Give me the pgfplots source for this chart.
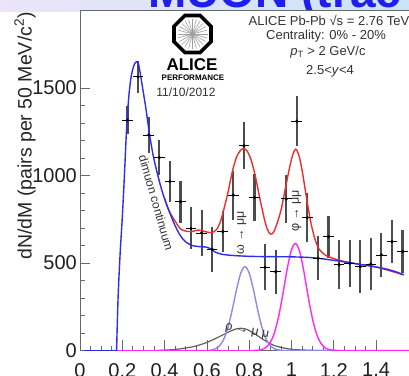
\documentclass[border=0pt]{standalone}
\usepackage{pgfplots}
\pgfplotsset{compat=1.18}
\usepackage{pgfplotstable}
\usepackage{fontspec}
\setmainfont{Liberation Sans}

\definecolor{framegray}{RGB}{105,105,105}
\definecolor{contblue}{RGB}{45,45,235}
\definecolor{fitred}{RGB}{240,45,45}
\definecolor{phimag}{RGB}{255,40,255}
\definecolor{omegablue}{RGB}{140,140,228}
\definecolor{rhogray}{RGB}{95,95,95}
\definecolor{titleblue}{RGB}{30,30,240}
\definecolor{bgleft}{RGB}{236,228,248}
\definecolor{bgmid}{RGB}{232,244,236}
\definecolor{bgright}{RGB}{200,228,246}

% measured dimuon spectrum: mass (GeV/c^2), counts, stat. error
\pgfplotstableread{
x      y     e
0.225  1315  80
0.275  1563  90
0.325  1231  100
0.375  1102  100
0.425  965   115
0.475  850   120
0.525  697   120
0.575  671   130
0.625  578   130
0.675  679   115
0.725  888   140
0.775  1169  135
0.825  873   135
0.875  475   132
0.925  450   125
0.975  866   135
1.025  1310  143
1.075  759   140
1.125  527   125
1.175  650   120
1.225  489   140
1.275  498   135
1.325  479   150
1.375  494   150
1.425  546   125
1.475  622   125
1.525  565   125
}\spectrum

\begin{document}
\begin{tikzpicture}[x=1pt,y=1pt]
\useasboundingbox (0,0) rectangle (409,375);
\clip (0,0) rectangle (409,375);
\fill[white] (0,0) rectangle (409,375);
% slide background and heading above the figure
\shade[left color=bgleft, middle color=bgmid, right color=bgright] (0,363) rectangle (409,375);
\node[anchor=base west, inner sep=0pt, text=titleblue,
      font=\fontsize{46}{46}\selectfont\bfseries] at (148,367.5) {MUON (trac};

\begin{axis}[
  at={(80pt,24.5pt)}, anchor=south west,
  scale only axis, width=338.4pt, height=340.5pt,
  xmin=0, xmax=1.6, ymin=0, ymax=1945,
  axis background/.style={fill=white},
  axis line style={framegray, line width=0.9pt},
  tick style={framegray, line width=0.8pt},
  tick align=inside,
  major tick length=10pt, minor tick length=5pt,
  xtick={0,0.2,0.4,0.6,0.8,1,1.2,1.4},
  ytick={0,500,1000,1500},
  minor x tick num=3, minor y tick num=4,
  xtick pos=bottom, ytick pos=left,
  /pgf/number format/assume math mode=true,
  /pgf/number format/1000 sep={},
  tick label style={font=\fontsize{20}{20}\selectfont, text=black!88},
  xticklabel style={inner sep=0pt, yshift=-12.5pt},
  yticklabel style={inner sep=0pt, xshift=-3pt},
  clip=true,
]
% data: vertical stat. errors, bin width, markers
\addplot[draw=none, forget plot,
  error bars/.cd, y dir=both, y explicit,
  error bar style={line width=2.2pt, black!70}, error mark=none]
  table[x=x, y=y, y error=e] {\spectrum};
\addplot[only marks, mark=-, mark size=5.3pt, mark options={line width=0.8pt, black}]
  table[x=x, y=y] {\spectrum};
\addplot[only marks, mark=*, mark size=1.4pt, black]
  table[x=x, y=y] {\spectrum};

% rho -> mu mu
\addplot[rhogray, line width=1.2pt, smooth] coordinates {
 (0.35,0) (0.40,2) (0.45,6) (0.50,14) (0.55,26) (0.60,46) (0.64,68) (0.68,92)
 (0.71,110) (0.74,124) (0.76,127) (0.78,124) (0.80,114) (0.83,92) (0.86,68)
 (0.89,45) (0.92,28) (0.96,15) (1.00,7) (1.05,3) (1.10,1) (1.15,0) (1.6,0)};

% omega -> mu mu
\addplot[omegablue, line width=1.4pt, smooth] coordinates {
 (0.40,0) (0.60,0) (0.62,3) (0.64,9.5) (0.66,27) (0.68,65) (0.70,133) (0.72,233)
 (0.74,348) (0.76,442) (0.78,479) (0.80,442) (0.82,348) (0.84,233) (0.86,133)
 (0.88,65) (0.90,27) (0.92,9.5) (0.94,3) (0.96,0) (1.20,0)};

% phi -> mu mu
\addplot[phimag, line width=1.4pt] coordinates {(0.12,0) (0.818,0)};
\addplot[phimag, line width=1.4pt, smooth] coordinates {
 (0.818,0) (0.838,1.5) (0.858,5) (0.878,16) (0.898,43) (0.918,96) (0.938,188)
 (0.958,314) (0.978,455) (0.998,568) (1.018,612) (1.038,568) (1.058,455)
 (1.078,314) (1.098,188) (1.118,96) (1.138,43) (1.158,16) (1.178,5)
 (1.198,1.5) (1.218,0)};
\addplot[phimag, line width=1.4pt] coordinates {(1.218,0) (1.6,0)};

% total
\addplot[fitred, line width=1.4pt, smooth] coordinates {
 (0.40,870) (0.42,800) (0.45,738) (0.475,695) (0.50,682) (0.53,680) (0.56,688)
 (0.59,680) (0.62,673) (0.645,690) (0.665,740) (0.685,830) (0.70,905)
 (0.72,1020) (0.74,1105) (0.76,1145) (0.775,1152) (0.79,1140) (0.81,1085)
 (0.83,990) (0.85,870) (0.87,760) (0.885,695) (0.90,665) (0.915,675)
 (0.93,720) (0.95,800) (0.97,920) (0.99,1040) (1.005,1115) (1.02,1150)
 (1.035,1115) (1.05,1030) (1.07,880) (1.09,740) (1.11,640) (1.13,580)
 (1.16,545) (1.20,525) (1.25,508) (1.30,496) (1.40,477) (1.53,432)};

% dimuon continuum
\addplot[contblue, line width=1.4pt] coordinates {(0.02,0) (0.173,0)};
\addplot[contblue, line width=1.4pt, smooth] coordinates {
 (0.173,0) (0.18,300) (0.19,560) (0.20,760) (0.21,1000) (0.22,1260)
 (0.23,1440) (0.24,1550) (0.25,1610) (0.26,1642) (0.268,1650) (0.277,1635)
 (0.29,1545) (0.30,1470) (0.31,1395) (0.32,1310) (0.33,1225) (0.345,1120)
 (0.36,1040) (0.38,945) (0.40,865) (0.425,785) (0.45,712) (0.475,655)
 (0.50,620) (0.53,600) (0.56,594) (0.60,590) (0.62,578) (0.64,562)
 (0.67,550) (0.72,543) (0.80,538) (0.90,536) (1.00,535) (1.10,530)
 (1.20,515) (1.30,497) (1.40,477) (1.45,465) (1.50,447) (1.53,432)};

% labels for the components
\node[rotate=-74, font=\fontsize{12}{12}\selectfont, text=black!80]
  at (axis cs:0.36,843) {dimuon continuum};
\node[rotate=90, font=\fontsize{12.5}{12.5}\selectfont, text=black!80]
  at (axis cs:0.7645,671) {ω → μμ};
\node[rotate=90, font=\fontsize{12.5}{12.5}\selectfont, text=black!80]
  at (axis cs:1.0246,797) {φ → μμ};
\node[rotate=-11, font=\fontsize{12.5}{12.5}\selectfont, text=black!80]
  at (axis cs:0.79,110) {ρ → μ μ};
\end{axis}

% collaboration logo
\begin{scope}[shift={(192.5,341)}]
  \foreach \a in {0,15,...,345} \draw[gray!75, line width=0.6pt] (0,0) -- (\a:15);
  \draw[black, line width=3.6pt, join=miter]
    (22.5:20) -- (67.5:20) -- (112.5:20) -- (157.5:20) -- (202.5:20)
    -- (247.5:20) -- (292.5:20) -- (337.5:20) -- cycle;
\end{scope}
\node[font=\fontsize{17}{17}\selectfont\bfseries, inner sep=0pt] at (192,310) {ALICE};
\node[font=\fontsize{8}{8}\selectfont\bfseries, inner sep=0pt] at (193,297.5) {PERFORMANCE};
\node[font=\fontsize{12}{12}\selectfont, text=black!80, inner sep=0pt] at (186,283) {11/10/2012};

% run information
\node[font=\fontsize{13}{13}\selectfont, text=black!80, inner sep=0pt] at (329,354.3)
  {ALICE Pb-Pb √s = 2.76 TeV};
\node[font=\fontsize{13}{13}\selectfont, text=black!80, inner sep=0pt] at (326,339)
  {Centrality: 0\% - 20\%};
\node[font=\fontsize{13}{13}\selectfont, text=black!80, inner sep=0pt] at (328,323.3)
  {\textit{p}\textsubscript{T} > 2 GeV/c};
\node[font=\fontsize{13}{13}\selectfont, text=black!80, inner sep=0pt] at (330,304)
  {2.5<\textit{y}<4};

% y-axis title
\node[rotate=90, font=\fontsize{19.5}{19.5}\selectfont, text=black!85, inner sep=0pt]
  at (25,239) {dN/dM (pairs per 50 MeV/c\textsuperscript{2})};
\end{tikzpicture}
\end{document}
